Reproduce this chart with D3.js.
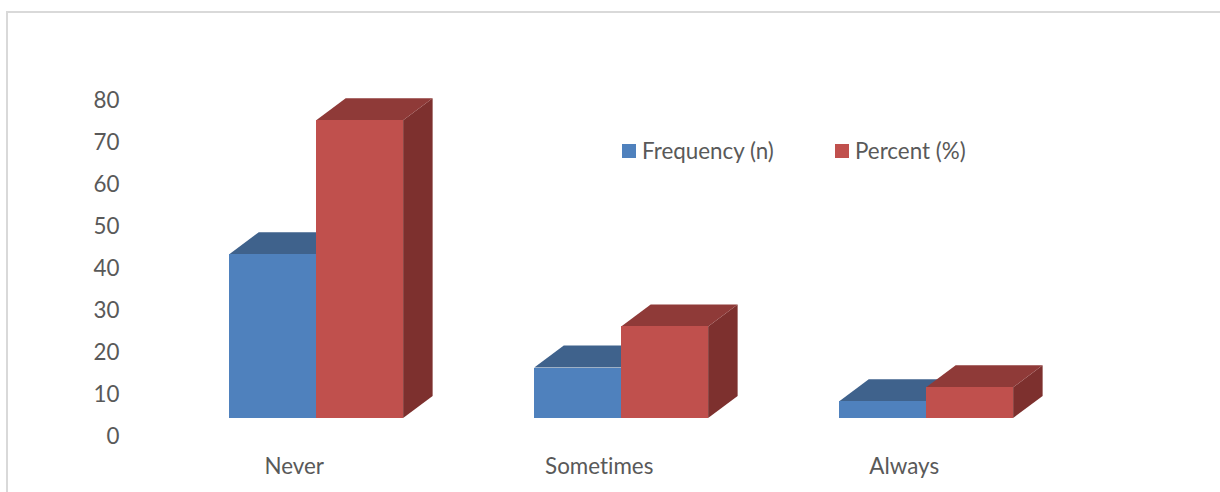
<!DOCTYPE html>
<html>
<head>
<meta charset="utf-8">
<script src="https://cdn.jsdelivr.net/npm/d3@7/dist/d3.min.js"></script>
<style>
html,body{margin:0;padding:0;background:#fff;overflow:hidden}
svg{display:block}
text{font-family:"Lato",sans-serif;font-size:22.4px;fill:#595959;font-variant-ligatures:none}
</style>
</head>
<body>
<svg id="chart" width="1220" height="492"></svg>
<script>
const categories = ["Never", "Sometimes", "Always"];
const seriesNames = ["Frequency (n)", "Percent (%)"];
const frequency = [39, 12, 4];
const percent = [70.9, 21.8, 7.3];
const yTicks = [0, 10, 20, 30, 40, 50, 60, 70, 80];

const faceColors = [
  {front: "#4f81bd", top: "#3f628c", side: "#36587f"},
  {front: "#c0504d", top: "#8f3a38", side: "#7d302e"}
];

// Oblique projection: the back wall sits up and to the right of the front plane.
const depthX = 29.5, depthY = 22;

const svg = d3.select("#chart");

// Chart frame, running off the right and bottom edges of the page
svg.append("rect")
  .attr("x", 7).attr("y", 12).attr("width", 1240).attr("height", 500)
  .attr("fill", "#fff").attr("stroke", "#d9d9d9").attr("stroke-width", 2);

const x = d3.scaleBand().domain(categories).range([163.7, 1078.7])
  .paddingInner(0.43).paddingOuter(0.215);
const xSeries = d3.scaleBand().domain(seriesNames).range([0, x.bandwidth()]);
const y = d3.scaleLinear().domain([0, 80]).range([418, 82]);

// Value axis: labels hang below the front plane, level with the 3D floor
const yAxis = d3.axisLeft(y).tickValues(yTicks).tickSize(0).tickPadding(0);
svg.append("g")
  .attr("transform", "translate(119.5,18)")
  .call(yAxis)
  .call(g => g.select(".domain").remove())
  .call(g => g.selectAll("text").attr("dy", "0.35em").attr("x", 0));

// Category axis labels
const xAxis = d3.axisBottom(x).tickSize(0).tickPadding(0);
svg.append("g")
  .attr("transform", "translate(-22,456)")
  .call(xAxis)
  .call(g => g.select(".domain").remove())
  .call(g => g.selectAll("text").attr("dy", "0.35em").attr("y", 10));

// Points are listed as polygon corners in page coordinates
const poly = pts => pts.map(p => p.join(",")).join(" ");

const groups = [frequency, percent];
categories.forEach((cat, i) => {
  groups.forEach((vals, s) => {
    const name = seriesNames[s];
    const x0 = x(cat) + xSeries(name);
    const x1 = x0 + xSeries.bandwidth();
    const y0 = y(0), y1 = y(vals[i]);
    const c = faceColors[s];
    const g = svg.append("g").attr("class", "bar");
    g.append("polygon").attr("fill", c.side).attr("points", poly([
      [x1, y1], [x1 + depthX, y1 - depthY], [x1 + depthX, y0 - depthY], [x1, y0]
    ]));
    g.append("polygon").attr("fill", c.top).attr("points", poly([
      [x0, y1], [x0 + depthX, y1 - depthY], [x1 + depthX, y1 - depthY], [x1, y1]
    ]));
    g.append("rect").attr("fill", c.front).attr("shape-rendering", "crispEdges")
      .attr("x", x0).attr("y", y1).attr("width", x1 - x0).attr("height", y0 - y1);
  });
});

// Legend placed inside the plot area
const legendX = [622, 835];
const legend = svg.selectAll("g.legend").data(seriesNames).join("g")
  .attr("class", "legend")
  .attr("transform", (d, i) => `translate(${legendX[i]},144)`);
legend.append("rect").attr("width", 14).attr("height", 14)
  .attr("fill", (d, i) => faceColors[i].front);
legend.append("text").attr("x", 20).attr("y", 7).attr("dy", "0.35em").text(d => d);
</script>
</body>
</html>
